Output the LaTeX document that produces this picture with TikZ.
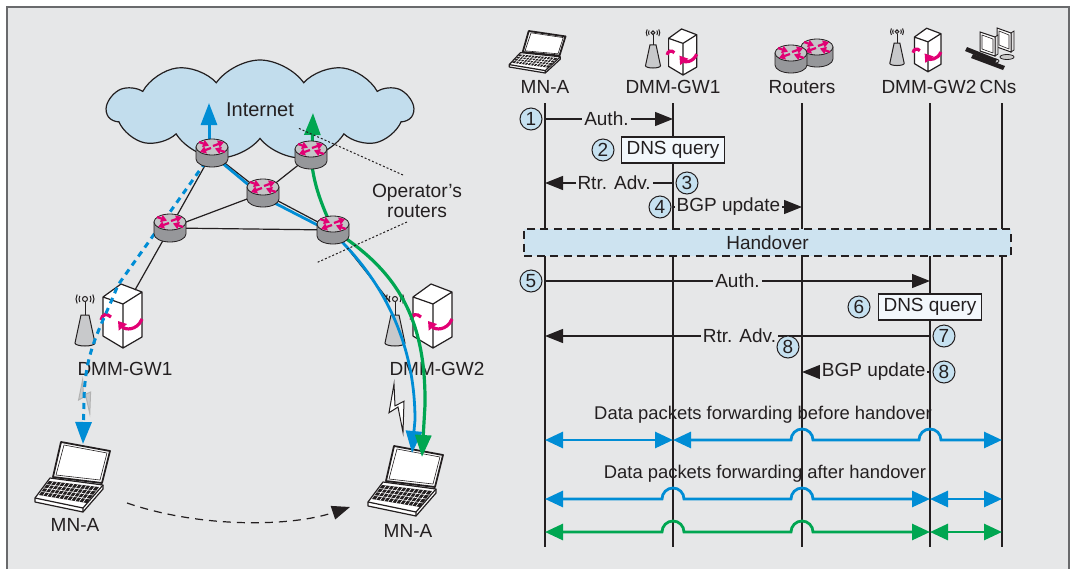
\documentclass[tikz,border=0pt]{standalone}
\usepackage{fontspec}
\setmainfont{Liberation Sans}
\usetikzlibrary{arrows.meta,shapes.symbols,calc}

\definecolor{panel}{RGB}{230,231,232}
\definecolor{rim}{RGB}{105,106,108}
\definecolor{ink}{RGB}{35,31,32}
\definecolor{sky}{RGB}{194,221,237}
\definecolor{flowblue}{RGB}{0,141,213}
\definecolor{flowgreen}{RGB}{0,166,81}
\definecolor{magentac}{RGB}{226,0,116}
\definecolor{stepfill}{RGB}{198,225,240}
\definecolor{hofill}{RGB}{205,227,240}
\definecolor{qfill}{RGB}{243,248,252}
\definecolor{rtside}{RGB}{150,151,154}
\definecolor{rttop}{RGB}{196,197,199}
\definecolor{conegray}{RGB}{200,201,203}

\tikzset{
  rtarrow/.style={magentac, line width=1.1pt, -{Triangle[length=3pt,width=3.6pt]}},
  router/.pic={
    \draw[line width=0.4pt,fill=rtside] (-16,-6) -- (-16,6)
      arc[start angle=180,end angle=0,x radius=16,y radius=8] -- (16,-6) -- cycle;
    \draw[line width=0.4pt,fill=rttop] (0,-6) ellipse[x radius=16,y radius=8];
    \draw[rtarrow] (1,-7) -- (12,-11);
    \draw[rtarrow] (-1,-5) -- (-12,-1);
    \draw[rtarrow] (-13,-11) -- (-3,-7.5);
    \draw[rtarrow] (13,-1) -- (3,-4.5);
  },
  server/.pic={
    \fill[white] (-20,-19) -- (-2,-32) -- (19,-24) -- (19,21) -- (0,32) -- (-20,20) -- cycle;
    \draw[line width=0.6pt,line join=round]
      (-20,-19) -- (0,-12) -- (0,32) -- (-20,20) -- cycle
      (0,-12) -- (19,-24) -- (19,21) -- (0,32)
      (-20,-19) -- (-2,-32) -- (19,-24);
    \draw[magentac,line width=1.6pt,-{Triangle[length=4pt,width=5pt]}]
      (19,3) .. controls (14,15) and (2,14) .. (-5,5);
    \draw[magentac,line width=1.6pt] (-22,4) .. controls (-21,-2) and (-16,-3) .. (-12,1);
    \coordinate (-top) at (12,-26);
  },
  antenna/.pic={
    \draw[line width=0.5pt,fill=conegray] (-4,-15) -- (4,-15) -- (10,13)
      arc[start angle=0,end angle=180,x radius=10,y radius=3] -- cycle;
    \draw[line width=0.5pt] (0,-15) -- (0,-28);
    \draw[line width=0.5pt] (0,-31) circle[radius=2.5];
    \foreach \r in {6,9} {
      \draw[line width=0.5pt] (0,-31) ++(150:\r) arc[start angle=150,end angle=210,radius=\r];
      \draw[line width=0.5pt] (0,-31) ++(-30:\r) arc[start angle=-30,end angle=30,radius=\r];
    }
    \coordinate (-top) at (-5,-28);
  },
  laptop/.pic={
    \draw[line width=0.9pt,line join=round,fill=white] (-11,-30) -- (38,-21) -- (30,11) -- (-19,5) -- cycle;
    \draw[line width=0.3pt] (-8,-27) -- (35,-19) -- (28,8) -- (-16,3) -- cycle;
    \draw[line width=0.6pt,line join=round,fill=white]
      (-22,6) -- (31,13) -- (31,17) -- (11,40) -- (-37,30) -- (-37,26) -- cycle;
    \draw[line width=0.6pt] (-37,26) -- (11,36) -- (31,13) (11,36) -- (11,40);
    \fill[ink] (-23,9) -- (27,15) -- (15,31) -- (-33,23) -- cycle;
    \foreach \t in {0.25,0.5,0.75}
      \draw[white,line width=0.3pt] ({-23-10*\t},{9+14*\t}) -- ({27-12*\t},{15+16*\t});
    \foreach \s in {1,...,11}
      \draw[white,line width=0.3pt] ({-23+50*\s/12},{9+6*\s/12}) -- ({-33+48*\s/12},{23+8*\s/12});
  },
  hosts/.pic={
    \draw[fill=black!20,line width=0.4pt] (12,12) ellipse[x radius=7,y radius=2.5];
    \draw[line width=0.4pt,fill=black!12] (16,-12) -- (19,-14) -- (19,5) -- (16,7) -- cycle;
    \draw[line width=0.5pt,fill=white] (2,-17) -- (16,-12) -- (16,7) -- (2,2) -- cycle;
    \draw[line width=0.3pt] (4,-14) -- (14,-10) -- (14,4) -- (4,0) -- cycle;
    \draw[fill=black!20,line width=0.4pt] (-3,16) ellipse[x radius=7,y radius=2.5];
    \draw[line width=0.4pt,fill=black!12] (0,-8) -- (3,-10) -- (3,9) -- (0,11) -- cycle;
    \draw[line width=0.5pt,fill=white] (-15,-13) -- (0,-8) -- (0,11) -- (-15,6) -- cycle;
    \draw[line width=0.3pt] (-13,-10) -- (-2,-6) -- (-2,8) -- (-13,4) -- cycle;
    \fill[ink] (-28,2) -- (2,14) -- (0,18) -- (-30,6) -- cycle;
    \fill[ink] (-22,9) -- (10,21) -- (8,25) -- (-24,13) -- cycle;
  },
  bolt/.pic={
    \draw[line width=0.5pt,line join=miter,#1]
      (-3,-20) -- (-8,5) -- (1,0) -- (6,22) -- (7,-5) -- (-2,-1) -- cycle;
  },
}

\begin{document}
\begin{tikzpicture}[x=0.5pt,y=-0.5pt,color=ink,font=\fontsize{9.5}{10.5}\selectfont,
  life/.style={line width=0.55pt},
  link/.style={line width=0.6pt},
  msg/.style={line width=0.65pt,-{Triangle[length=9pt,width=7pt]}},
  lbl/.style={fill=panel,inner sep=1pt},
  num/.style={circle,draw,fill=stepfill,line width=0.5pt,inner sep=0pt,minimum size=11pt},
  dns/.style={draw,fill=qfill,line width=0.6pt,minimum width=51.5pt,minimum height=13pt,inner sep=0pt},
  hand/.style={draw,fill=hofill,line width=0.7pt,dash pattern=on 4pt off 2.6pt,
    minimum width=243.5pt,minimum height=13.5pt},
  flow/.style={line width=1.4pt,{Triangle[length=9pt,width=8pt]}-{Triangle[length=9pt,width=8pt]}},
  bigtip/.style={-{Triangle[length=11pt,width=8pt]}},
  pointer/.style={line width=0.5pt,dash pattern=on 1pt off 1pt},
  datafont/.style={font=\fontsize{9.2}{10.5}\selectfont}]
\useasboundingbox (0,0) rectangle (1073,569);
\fill[white] (0,0) rectangle (1073,569);
\fill[panel] (7,7) rectangle (1069,569);
\draw[rim,line width=0.7pt] (7,569) -- (7,7) -- (1069,7) -- (1069,569);

% operator network
\node[cloud,cloud puffs=11,cloud puff arc=110,cloud ignores aspect,draw,fill=sky,line width=0.6pt,
  minimum width=153pt,minimum height=50pt,font=\fontsize{10}{12}\selectfont] (net) at (260,110) {Internet};

\coordinate (rt1) at (212,153);
\coordinate (rt2) at (311,155);
\coordinate (rt3) at (263,193);
\coordinate (rt4) at (170,228);
\coordinate (rt5) at (333,230);

\pic[scale=0.8] (boltL) at (85,396) {bolt={fill=conegray,draw=black!30}};
\pic[yscale=1.15] (boltR) at (397,407) {bolt={fill=white,draw=ink}};

\pic (ant1) at (85,330) {antenna};
\pic (gw1) at (123,316) {server};
\pic (ant2) at (395,330) {antenna};
\pic (gw2) at (433,316) {server};
\pic (lapL) at (72,472) {laptop};
\pic (lapR) at (405,476) {laptop};

\node (gwl1) at (125,369) {DMM-GW1};
\node (gwl2) at (437,369) {DMM-GW2};
\node (mnL) at (75,525) {MN-A};
\node (mnR) at (408,531) {MN-A};

\draw[link] (rt1) -- (rt3) -- (rt2);
\draw[link] (rt1) -- (rt4) -- (rt3) -- (rt5) -- (rt4);
\draw[link] (rt4) -- (gw1-top);
\draw[link] (rt5) -- (ant2-top);

\coordinate (upB) at (209,103);
\coordinate (upG) at (313,113);
\coordinate (tipL) at (83,444);
\coordinate (tipB) at (412,453);
\coordinate (tipG) at (422,457);

\draw[flowblue,line width=1.5pt,dash pattern=on 3pt off 2.5pt,bigtip]
  (rt1) -- (118,285) .. controls (100,330) and (85,350) .. (84,400) -- (tipL);
\draw[flowblue,line width=1.4pt,bigtip] ($(rt1)+(3,4)$) -- ($(rt3)+(0,4)$) -- ($(rt5)+(0,3)$)
  .. controls (372,270) and (415,330) .. (415,420) -- (tipB);
\draw[flowgreen,line width=1.6pt,bigtip] (rt2) .. controls (313,185) and (322,205) .. (rt5)
  .. controls (400,272) and (426,322) .. (425,405) -- (tipG);
\draw[flowblue,line width=1.5pt,bigtip] ($(rt1)+(-3,-5)$) -- (upB);
\draw[flowgreen,line width=1.5pt,bigtip] ($(rt2)+(1,-5)$) -- (upG);

\foreach \r in {rt1,rt2,rt3,rt4,rt5}
  \pic at (\r) {router};

\node[align=center,font=\fontsize{9.6}{10}\selectfont] (opr) at (417,201) {Operator’s\\routers};
\coordinate (op1) at (403,175);
\coordinate (op2) at (407,222);
\coordinate (dot1) at (298,128);
\coordinate (dot2) at (316,263);
\draw[pointer] (op1) -- (dot1);
\draw[pointer] (op2) -- (dot2);

\coordinate (mvA) at (127,503);
\coordinate (mvB) at (350,507);
\draw[line width=0.6pt,dash pattern=on 4pt off 3pt,-{Triangle[length=9pt,width=7pt]}]
  (mvA) .. controls (200,528) and (290,527) .. (mvB);

% message sequence
\pic[xscale=0.75,yscale=0.6] at (537,49) {laptop};
\pic[scale=0.75] at (653,56) {antenna};
\pic[scale=0.72] at (683,52) {server};
\pic at (817,53) {router};
\pic at (791,59) {router};
\pic[scale=0.72] at (897,54) {antenna};
\pic[scale=0.68] at (928,50) {server};
\pic at (995,45) {hosts};

\path (545,87) node (hMN) {MN-A};
\path (673,87) node (hGW1) {DMM-GW1};
\path (802,87) node (hRT) {Routers};
\path (929,87) node (hGW2) {DMM-GW2};
\path (998,87) node (hCN) {CNs};

\foreach \n/\x in {MN/545,GW1/673,RT/802,GW2/930,CN/1002} {
  \coordinate (t\n) at (\x,103);
  \coordinate (b\n) at (\x,547);
  \draw[life] (t\n) -- (b\n);
}

\draw[msg] (tMN |- 0,119) -- node[lbl,pos=0.48] {Auth.} (tGW1 |- 0,119);
\node[num] (n1) at (531,119) {1};
\node[num] (n2) at (603,150) {2};
\node[dns] (q1) at (673,150) {DNS query};
\draw[msg] (tGW1 |- 0,183) -- node[lbl,pos=0.46] {Rtr. Adv.} (tMN |- 0,183);
\node[num] (n3) at (687,183) {3};
\draw[msg] (tGW1 |- 0,207) -- node[lbl,pos=0.43] {BGP update} (tRT |- 0,207);
\node[num] (n4) at (660,207) {4};

\node[hand] (ho) at (767.5,242.5) {Handover};

\draw[msg] (tMN |- 0,281) -- node[lbl] {Auth.} (tGW2 |- 0,281);
\node[num] (n5) at (531,281) {5};
\node[num] (n6) at (859,307) {6};
\node[dns] (q2) at (930,307) {DNS query};
\draw[msg] (tGW2 |- 0,336) -- node[lbl,pos=0.495] {Rtr. Adv.} (tMN |- 0,336);
\node[num] (n7) at (944,336) {7};
\node[num] (n8a) at (788,347) {8};
\draw[msg] (tGW2 |- 0,372) -- node[lbl,pos=0.44] {BGP update} (tRT |- 0,372);
\node[num] (n8b) at (944,372) {8};

\node[datafont] (before) at (763,415) {Data packets forwarding before handover};
\node[datafont] (after) at (765,474) {Data packets forwarding after handover};

\coordinate (fA) at (0,440);
\coordinate (fB) at (0,499);
\coordinate (fC) at (0,532);

\draw[flow,flowblue] (tMN |- fA) -- (tGW1 |- fA);
\draw[flow,flowblue] (tGW1 |- fA) -- ($(tRT |- fA)+(-11,0)$) arc[start angle=180,end angle=360,radius=11]
  -- ($(tGW2 |- fA)+(-11,0)$) arc[start angle=180,end angle=360,radius=11] -- (tCN |- fA);

\draw[flow,flowblue] (tMN |- fB) -- ($(tGW1 |- fB)+(-11,0)$) arc[start angle=180,end angle=360,radius=11]
  -- ($(tRT |- fB)+(-11,0)$) arc[start angle=180,end angle=360,radius=11] -- (tGW2 |- fB);
\draw[flow,flowblue] (tGW2 |- fB) -- (tCN |- fB);

\draw[flow,flowgreen] (tMN |- fC) -- ($(tGW1 |- fC)+(-11,0)$) arc[start angle=180,end angle=360,radius=11]
  -- ($(tRT |- fC)+(-11,0)$) arc[start angle=180,end angle=360,radius=11] -- (tGW2 |- fC);
\draw[flow,flowgreen] (tGW2 |- fC) -- (tCN |- fC);
\end{tikzpicture}
\end{document}
